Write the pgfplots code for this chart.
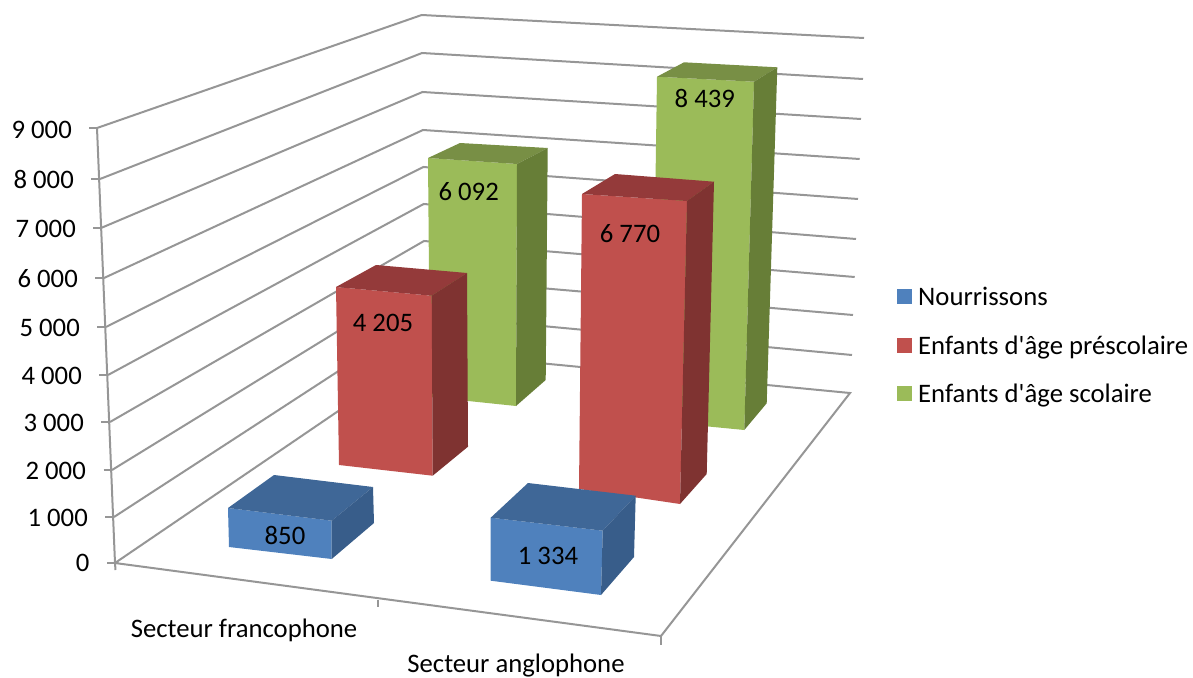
\documentclass[border=0pt]{standalone}
\usepackage{fontspec}
\setmainfont{Carlito}
\newfontfamily\straight{Carlito}
\usepackage{pgfplots}
\pgfplotsset{compat=1.18}

\definecolor{axgray}{HTML}{969696}
\definecolor{bluefront}{HTML}{4F81BD}
\definecolor{bluetop}{HTML}{3F6797}
\definecolor{blueside}{HTML}{385D8A}
\definecolor{redfront}{HTML}{C0504D}
\definecolor{redtop}{HTML}{943A3A}
\definecolor{redside}{HTML}{7F3331}
\definecolor{greenfront}{HTML}{9BBB59}
\definecolor{greentop}{HTML}{788F45}
\definecolor{greenside}{HTML}{677E37}

\tikzset{txt/.style={anchor=base, inner sep=0pt}}
\pgfplotsset{
    gl/.style={draw=axgray, line width=2pt, forget plot, line join=miter},
    face/.style={draw=none, fill=#1, forget plot},
}

\begin{document}
\begin{tikzpicture}
% page is the full frame, the last label's descender runs off it as in the reference
\useasboundingbox (0,0) rectangle (1193pt,677pt);
\begin{axis}[
    scale only axis, width=1193pt, height=677pt,
    xmin=0, xmax=1193, ymin=0, ymax=677,
    y dir=reverse, hide axis, clip=false,
    font=\fontsize{26.7}{32}\selectfont,
    legend image code/.code={\fill[#1] (0pt,-7pt) rectangle (15pt,8pt);},
    legend style={at={(axis cs:897,285)}, anchor=north west, draw=none, fill=none,
        inner sep=0pt, row sep=24.5pt, column sep=4pt, font=\fontsize{26.7}{32}\selectfont},
    legend cell align=left,
]
% walls: 9000 down to 0
\addplot[gl] coordinates {(97,128) (421.7,15) (864,38)};
\addplot[gl] coordinates {(100,179) (422,53) (863,79)};
\addplot[gl] coordinates {(101,228) (422.5,92) (861,119)};
\addplot[gl] coordinates {(104,278) (423,130) (859.7,159)};
\addplot[gl] coordinates {(106,327) (423.3,167) (858,199)};
\addplot[gl] coordinates {(108,375) (423.7,204) (856,239)};
\addplot[gl] coordinates {(110,422) (424,241) (854.7,277)};
\addplot[gl] coordinates {(112,470) (424.3,278) (853,315)};
\addplot[gl] coordinates {(114,517) (424.7,315) (852,355)};
% floor
\addplot[gl] coordinates {(115,563) (425,352) (850,393) (661,636) (115,563)};
% value axis and stubs
\addplot[gl] coordinates {(97,128) (115,563) (115.5,570)};
\addplot[gl] coordinates {(89,128) (97,128)};
\addplot[gl] coordinates {(91,179) (100,179)};
\addplot[gl] coordinates {(93,228) (101,228)};
\addplot[gl] coordinates {(95,278) (104,278)};
\addplot[gl] coordinates {(97,327) (106,327)};
\addplot[gl] coordinates {(99,375) (108,375)};
\addplot[gl] coordinates {(101,422) (110,422)};
\addplot[gl] coordinates {(103.5,470) (112,470)};
\addplot[gl] coordinates {(105,517) (114,517)};
\addplot[gl] coordinates {(107,563) (115,563)};
\addplot[gl] coordinates {(377.5,600) (377.5,607)};
\addplot[gl] coordinates {(661,636) (661,645)};

% green, Secteur francophone: 6092
\addplot[face=greenfront] coordinates {(428,158) (517,164) (516,406) (430,397)} --cycle;
\addplot[face=greentop] coordinates {(428,158) (460,143) (547.7,148) (517,164)} --cycle;
\addplot[face=greenside] coordinates {(517,164) (547.7,148) (545.7,380) (516,406)} --cycle;
% green, Secteur anglophone: 8439
\addplot[face=greenfront] coordinates {(657,76.7) (754,81.7) (744.3,430) (652,421)} --cycle;
\addplot[face=greentop] coordinates {(657,76.7) (684,62.3) (777.3,67.3) (754,81.7)} --cycle;
\addplot[face=greenside] coordinates {(754,81.7) (777.3,67.3) (766.7,403.3) (744.3,430)} --cycle;
% red, Secteur francophone: 4205
\addplot[face=redfront] coordinates {(336,287) (431.7,295.7) (432.7,475.7) (339,465)} --cycle;
\addplot[face=redtop] coordinates {(336,287) (376,265) (467,273) (431.7,295.7)} --cycle;
\addplot[face=redside] coordinates {(431.7,295.7) (467,273) (468,446.7) (432.7,475.7)} --cycle;
% red, Secteur anglophone: 6770
\addplot[face=redfront] coordinates {(582,194) (687,201) (680,504) (579,489)} --cycle;
\addplot[face=redtop] coordinates {(582,194) (615,174) (714,181.7) (687,201)} --cycle;
\addplot[face=redside] coordinates {(687,201) (714,181.7) (706.7,474) (680,504)} --cycle;
% blue, Secteur francophone: 850
\addplot[face=bluefront] coordinates {(228,508) (331.7,520.7) (331.7,559) (229,547)} --cycle;
\addplot[face=bluetop] coordinates {(228,508) (274,475) (373,487) (331.7,520.7)} --cycle;
\addplot[face=blueside] coordinates {(331.7,520.7) (373,487) (374,523) (331.7,559)} --cycle;
% blue, Secteur anglophone: 1334
\addplot[face=bluefront] coordinates {(490.7,517.7) (602.7,530.7) (601,595) (490.7,580.7)} --cycle;
\addplot[face=bluetop] coordinates {(490.7,517.7) (528,483) (635.7,495.7) (602.7,530.7)} --cycle;
\addplot[face=blueside] coordinates {(602.7,530.7) (635.7,495.7) (634,557) (601,595)} --cycle;

% value labels
\addplot[draw=none, forget plot, point meta=explicit symbolic,
    nodes near coords, nodes near coords style={txt}] coordinates {
    (285,544)[850] (548,564)[1 334]
    (383,331)[4 205] (630,242.7)[6 770]
    (468.7,200)[6 092] (704.8,107.7)[8 439]
};
% value axis tick labels
\addplot[draw=none, forget plot, point meta=explicit symbolic,
    nodes near coords, nodes near coords style={anchor=base east, inner sep=0pt}] coordinates {
    (72,138)[9 000] (74,188)[8 000] (76,237)[7 000] (78,287)[6 000] (80,336)[5 000]
    (82,384)[4 000] (84,431)[3 000] (86,479)[2 000] (88,526)[1 000] (89.5,571)[0]
};
% category labels
\addplot[draw=none, forget plot, point meta=explicit symbolic,
    nodes near coords, nodes near coords style={txt}] coordinates {
    (244,637.7)[Secteur francophone] (516,672.7)[Secteur anglophone]
};

\addlegendimage{fill=bluefront, draw=none}
\addlegendentry{Nourrissons}
\addlegendimage{fill=redfront, draw=none}
\addlegendentry{Enfants d{\straight '}âge préscolaire}
\addlegendimage{fill=greenfront, draw=none}
\addlegendentry{Enfants d{\straight '}âge scolaire}
\end{axis}
\end{tikzpicture}
\end{document}
